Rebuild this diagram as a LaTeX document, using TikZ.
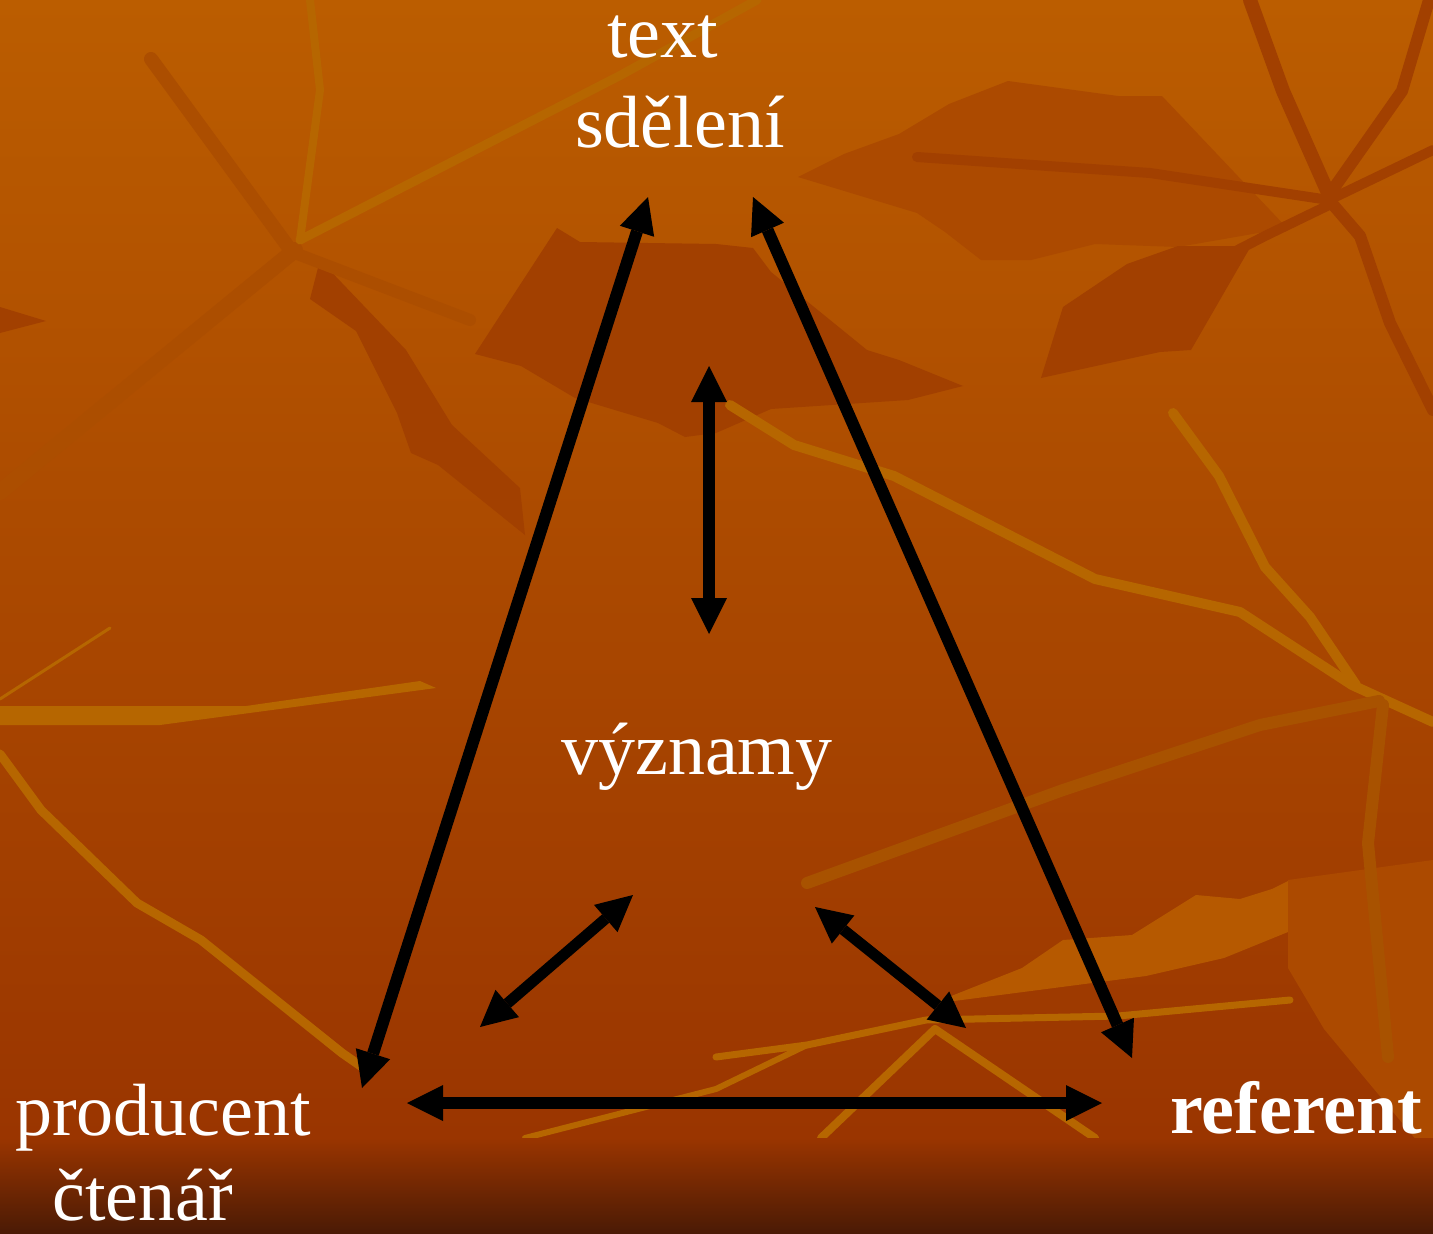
\documentclass[tikz,border=0pt]{standalone}
\usepackage{fontspec}
\setmainfont{Liberation Serif}
\usetikzlibrary{arrows.meta}
\definecolor{bgA}{HTML}{BB5D00}
\definecolor{bgB}{HTML}{AA4700}
\definecolor{bgC}{HTML}{9A3500}
\definecolor{bgD}{HTML}{4A1A05}
\definecolor{bgM}{HTML}{7E2C00}
\definecolor{veinL}{HTML}{B66600}
\definecolor{veinM}{HTML}{A85200}
\definecolor{darkP}{HTML}{A24000}
\definecolor{darkV}{HTML}{A24000}
\definecolor{softV}{HTML}{AC4E00}
\definecolor{midP}{HTML}{AC4A00}
\definecolor{lightP}{HTML}{B65900}
\begin{document}
\begin{tikzpicture}[x=1pt,y=-1pt,
  tipA/.tip={Triangle[width=36pt,length=36pt,line width=0pt]},
  conn/.style={line width=12pt, black, {tipA}-{tipA}},
  smallconn/.style={conn, line width=11pt},
  lbl/.style={text=white, font=\fontsize{74}{89}\selectfont, inner sep=0pt, anchor=base west},
  vein/.style={line width=#1, draw=veinL, line cap=round, line join=round},
  vein/.default=9pt,
  veinm/.style={line width=#1, draw=veinM, line cap=round, line join=round},
  veinm/.default=12pt,
  darkvein/.style={line width=#1, draw=darkV, line cap=round, line join=round},
  darkvein/.default=14pt,
  softvein/.style={line width=#1, draw=softV, line cap=round, line join=round}
]
\useasboundingbox (0,0) rectangle (1433,1234);
% background gradient
\shade[top color=bgA, middle color=bgB, bottom color=bgC] (0,0) rectangle (1433,1140);
% darker patches
\fill[midP] (798,177) -- (844,154) -- (899,134) -- (949,104) -- (1008,81) -- (1118,96) -- (1162,96) -- (1287,228) -- (1178,247) -- (1095,244) -- (1031,260) -- (981,260) -- (945,232) -- (917,213) -- cycle;
\fill[darkP] (557,228) -- (580,242) -- (716,244) -- (753,248) -- (771,272) -- (867,350) -- (899,360) -- (963,386) -- (908,400) -- (771,409) -- (716,433) -- (685,437) -- (658,423) -- (575,398) -- (521,366) -- (475,354) -- cycle;
\fill[darkP] (1041,378) -- (1063,307) -- (1127,264) -- (1178,246) -- (1251,246) -- (1191,350) -- (1160,352) -- cycle;
\fill[darkP] (320,260) -- (406,350) -- (452,425) -- (520,488) -- (525,535) -- (438,465) -- (411,453) -- (397,413) -- (356,331) -- (310,299) -- cycle;
\fill[darkP] (0,307) -- (46,321) -- (0,333) -- cycle;
% lighter patches lower right
\fill[lightP] (931,1004) -- (1022,968) -- (1063,940) -- (1132,935) -- (1196,895) -- (1240,899) -- (1272,889) -- (1288,881) -- (1288,932) -- (1224,958) -- (1146,976) -- cycle;
\fill[midP] (1288,880) -- (1433,860) -- (1433,1160) -- (1324,1029) -- (1288,968) -- cycle;
% dark veins top right
\draw[darkvein] (1250,0) -- (1283,91) -- (1329,195);
\draw[darkvein=12pt] (1429,0) -- (1402,91) -- (1329,195);
\draw[darkvein=10pt] (1329,200) -- (1150,173) -- (917,157);
\draw[darkvein=12pt] (1329,200) -- (1360,236) -- (1390,323) -- (1433,410);
\draw[darkvein=10pt] (1329,205) -- (1265,236) -- (1150,295);
\draw[darkvein=10pt] (1329,200) -- (1433,150);
% soft veins top left
\draw[softvein=16pt] (295,250) -- (0,492);
\draw[softvein=14pt] (292,252) -- (151,59);
\draw[softvein=12pt] (292,252) -- (470,320);
% golden veins
\draw[vein=8pt] (310,0) -- (320,90) -- (300,240);
\draw[vein=9pt] (300,240) -- (621,75) -- (757,0);
\fill[veinL] (0,706) -- (246,706) -- (420,681) -- (436,688) -- (160,725) -- (0,725) -- cycle;
\draw[vein=3pt] (0,699) -- (110,628);
\draw[vein=9pt] (0,754) -- (41,810) -- (137,903) -- (201,940) -- (342,1053) -- (365,1069);
\draw[vein=10pt] (730,405) -- (794,445) -- (894,476) -- (1095,579) -- (1240,612) -- (1352,685) -- (1433,722);
\draw[vein=10pt] (1173,413) -- (1219,476) -- (1265,567) -- (1310,617) -- (1356,685);
\draw[veinm=12pt] (1379,701) -- (1260,725) -- (1063,790) -- (807,883);
\draw[veinm=12pt] (1383,705) -- (1368,843) -- (1388,1057);
\draw[vein=7pt] (716,1057) -- (807,1045) -- (926,1020) -- (1118,1016) -- (1290,1000);
\draw[vein=8pt] (935,1029) -- (821,1138);
\draw[vein=8pt] (935,1029) -- (1095,1138);
\draw[vein=6pt] (525,1138) -- (716,1089) -- (807,1045);
% bottom dark strip
\shade[top color=bgC, middle color=bgM, bottom color=bgD] (0,1138) rectangle (1433,1234);

% labels
\node[lbl] (text) at (607,57) {text};
\node[lbl] (sdeleni) at (575,147) {sdělení};
\node[lbl] (vyznamy) at (561,774) {významy};
\node[lbl] (producent) at (15,1135) {producent};
\node[lbl] (ctenar) at (52,1220) {čtenář};
\node[lbl, font=\fontsize{74}{89}\selectfont\bfseries] (referent) at (1170,1133) {referent};

% arrow end points
\coordinate (tL) at (648,197);
\coordinate (tR) at (753,197);
\coordinate (pB) at (362,1088);
\coordinate (rB) at (1132,1058);
\coordinate (vT) at (709,366);
\coordinate (vB) at (709,634);
\coordinate (sLa) at (633,895);
\coordinate (sLb) at (480,1027);
\coordinate (sRa) at (815,907);
\coordinate (sRb) at (966,1028);
\coordinate (hL) at (407,1103);
\coordinate (hR) at (1102,1103);

\draw[conn] (tL) -- (pB);
\draw[conn] (tR) -- (rB);
\draw[conn] (vT) -- (vB);
\draw[smallconn] (sLa) -- (sLb);
\draw[smallconn] (sRa) -- (sRb);
\draw[conn] (hL) -- (hR);
\end{tikzpicture}
\end{document}
